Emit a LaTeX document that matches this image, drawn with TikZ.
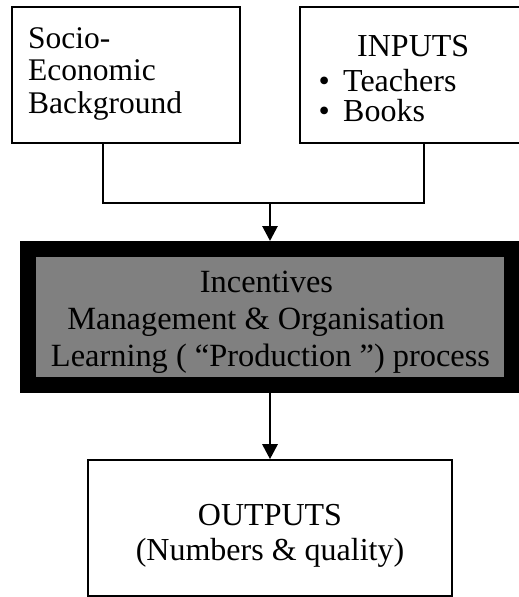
\documentclass[tikz,border=0pt]{standalone}
\usepackage{fontspec}
\setmainfont{Liberation Serif}
\usetikzlibrary{arrows.meta}
\begin{document}
\begin{tikzpicture}[x=1pt,y=-1pt,
  box/.style={draw=black, line width=1.6pt, inner sep=0pt, fill=white},
  midbox/.style={draw=black, line width=16pt, inner sep=0pt, fill={rgb,255:red,128;green,128;blue,128}},
  txt/.style={inner sep=0pt},
  conn/.style={line width=1.6pt},
  arr/.style={line width=2.8pt, -{Triangle[width=15pt,length=15pt]}}]
\clip (0,0) rectangle (519,597);
\fill[white] (0,0) rectangle (519,597);
% boxes
\node[box, minimum width=228pt, minimum height=136pt] (socio) at (126,75) {};
\node[box, minimum width=225pt, minimum height=136pt] (inputs) at (412.5,75) {};
\node[midbox, minimum width=484pt, minimum height=136pt] (mid) at (270,317) {};
\node[box, minimum width=364pt, minimum height=136pt] (outputs) at (270,528) {};
% texts (base anchor = baseline of the last line)
\node[txt, anchor=base west, align=left, font=\fontsize{31.5}{32.7}\selectfont] (sociotext) at (28,113.5) {Socio-\\Economic\\Background};
\node[txt, anchor=base west, align=left, font=\fontsize{32}{30}\selectfont] (inputstext) at (318.5,121.7) {\hspace*{38.5pt}INPUTS\\[5pt]\makebox[24.5pt][l]{•}Teachers\\\makebox[24.5pt][l]{•}Books};
\node[txt, anchor=base, align=center, font=\fontsize{32.4}{37}\selectfont] (midtext) at (270.5,366.7) {Incentives\rule{8pt}{0pt}\\Management \& Organisation\rule{29pt}{0pt}\\Learning ( “Production ”) process};
\node[txt, anchor=base, align=center, font=\fontsize{32}{35}\selectfont] (outtext) at (270,560) {OUTPUTS\\(Numbers \& quality)};
% connectors
\coordinate (j) at (270,203);
\draw[conn] ([xshift=-23pt]socio.south) |- (j) -| ([xshift=11.5pt]inputs.south);
\draw[arr] (j) -- (mid.north);
\draw[arr] (mid.south) -- (outputs.north);
\end{tikzpicture}
\end{document}
